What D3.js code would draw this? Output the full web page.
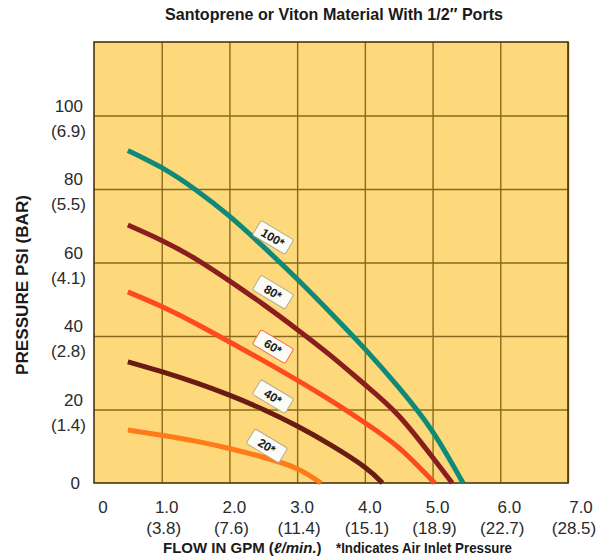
<!DOCTYPE html>
<html lang="en">
<head>
    <meta charset="UTF-8">
    <title>Santoprene or Viton Material With 1/2" Ports</title>
    <script src="https://cdn.jsdelivr.net/npm/d3@7"></script>
    <style>
        body { margin: 0; background: #fff; }
        .tick-num { font: 17px "Liberation Sans", Arial, sans-serif; fill: #2a2a2a; }
        .title { font-family: "Liberation Sans Narrow", "Liberation Sans", sans-serif; font-weight: bold; fill: #1a1a1a; }
        .tag text { font: bold 12px "Liberation Sans Narrow", "Liberation Sans", sans-serif; fill: #1a1a1a; text-anchor: middle; }
    </style>
</head>
<body>
    <svg id="chart" width="597" height="557"></svg>
    <script>
        // flow (gpm) ticks and the litres/min equivalents
        const gpmTicks = [1, 2, 3, 4, 5, 6, 7]
        const lpmLabels = ["(3.8)", "(7.6)", "(11.4)", "(15.1)", "(18.9)", "(22.7)", "(28.5)"]
        // pressure ticks (psi) and bar equivalents
        const psiTicks = [20, 40, 60, 80, 100]
        const barLabels = ["(1.4)", "(2.8)", "(4.1)", "(5.5)", "(6.9)"]

        // curves, one per air inlet pressure
        const airPressures = [100, 80, 60, 40, 20]
        const curveColors = ["#0f8a78", "#8a1e1e", "#ff4a1f", "#6a1c12", "#ff7a18"]
        const flow100 = [0.5, 1.0, 1.5, 2.0, 2.5, 3.0, 3.5, 4.0, 4.5, 5.0, 5.45]
        const psi100  = [90.5, 85.8, 79.8, 72.6, 64.3, 55.5, 46.2, 36.5, 26, 14, 0]
        const flow80  = [0.5, 1.0, 1.5, 2.0, 2.5, 3.0, 3.5, 4.0, 4.5, 5.0, 5.29]
        const psi80   = [70.2, 66, 61, 55, 48.6, 41.8, 34.6, 26.8, 18.3, 7, 0]
        const flow60  = [0.5, 1.0, 1.5, 2.0, 2.5, 3.0, 3.5, 4.0, 4.5, 5.03]
        const psi60   = [52, 48, 43.4, 38.4, 33.3, 28, 22.4, 16.4, 9.6, 0]
        const flow40  = [0.5, 1.0, 1.5, 2.0, 2.5, 3.0, 3.5, 4.0, 4.26]
        const psi40   = [33, 30.3, 27.3, 23.9, 20, 15.5, 10.3, 4.3, 0]
        const flow20  = [0.5, 1.0, 1.5, 2.0, 2.5, 3.0, 3.35]
        const psi20   = [14.4, 13, 11.4, 9.4, 7, 3.9, 0]
        // where the little tags sit
        const tagFlow = [2.64, 2.64, 2.64, 2.64, 2.55]
        const tagPsi  = [66.7, 51.8, 37, 23.4, 10]

        const series = [
            [flow100, psi100], [flow80, psi80], [flow60, psi60], [flow40, psi40], [flow20, psi20]
        ].map((s, i) => ({
            name: airPressures[i],
            color: curveColors[i],
            points: s[0].map((f, j) => [f, s[1][j]])
        }))

        const svg = d3.select("#chart")
        const plotL = 94, plotR = 568, plotT = 42, plotB = 483

        const x = d3.scaleLinear().domain([0, 7]).range([plotL, plotR])
        const y = d3.scaleLinear().domain([0, 120]).range([plotB, plotT])

        // plot background
        svg.append("rect").attr("x", plotL).attr("y", plotT)
            .attr("width", plotR - plotL).attr("height", plotB - plotT)
            .attr("fill", "#fdd97c")

        // grid lines
        svg.append("g").attr("transform", `translate(0,${plotB})`)
            .call(d3.axisBottom(x).tickValues(gpmTicks).tickSize(-(plotB - plotT)).tickFormat(""))
        svg.append("g").attr("transform", `translate(${plotL},0)`)
            .call(d3.axisLeft(y).tickValues(psiTicks).tickSize(-(plotR - plotL)).tickFormat(""))
        svg.selectAll(".domain").remove()
        svg.selectAll(".tick line").attr("stroke", "#8a6a1a").attr("stroke-width", 1.4)

        // frame
        svg.append("rect").attr("x", plotL).attr("y", plotT)
            .attr("width", plotR - plotL).attr("height", plotB - plotT)
            .attr("fill", "none").attr("stroke", "#4a3410").attr("stroke-width", 1.6)

        // curves
        const line = d3.line().x(d => x(d[0])).y(d => y(d[1])).curve(d3.curveNatural)
        svg.append("g").selectAll("path").data(series).enter().append("path")
            .attr("d", d => line(d.points))
            .attr("fill", "none")
            .attr("stroke", d => d.color)
            .attr("stroke-width", 5)

        // tags
        const tag = svg.append("g").selectAll("g").data(series).enter().append("g")
            .attr("class", "tag")
            .attr("transform", (d, i) => `translate(${x(tagFlow[i])},${y(tagPsi[i])}) rotate(31)`)
        tag.append("rect").attr("x", -19).attr("y", -9).attr("width", 38).attr("height", 17)
            .attr("rx", 2).attr("fill", "#fcfcf6")
            .attr("stroke", (d, i) => i === 2 ? "#f06a50" : "#b5ab90").attr("stroke-width", 1)
        tag.append("text").attr("y", 4).text(d => d.name + "*")

        // y tick labels
        const yl = svg.append("g").attr("class", "tick-num").attr("text-anchor", "end")
        yl.selectAll(".n").data(psiTicks).enter().append("text")
            .attr("x", 83).attr("y", d => y(d) - 4).text(d => d)
        yl.selectAll(".b").data(psiTicks).enter().append("text")
            .attr("x", 86).attr("y", (d, i) => y(d) + 21).text((d, i) => barLabels[i])
        yl.append("text").attr("x", 80).attr("y", y(0) + 6).text("0")

        // x tick labels
        const xl = svg.append("g").attr("class", "tick-num").attr("text-anchor", "middle")
        xl.selectAll(".n").data(gpmTicks).enter().append("text")
            .attr("x", (d, i) => x(d) + 5 + (i > 4 ? (i - 4) * 4 : 0)).attr("y", 513)
            .text(d => d.toFixed(1))
        xl.selectAll(".b").data(gpmTicks).enter().append("text")
            .attr("x", (d, i) => x(d) + 2 + (i > 5 ? 4 : 0)).attr("y", 534)
            .text((d, i) => lpmLabels[i])
        xl.append("text").attr("x", x(0) + 9).attr("y", 513).text("0")

        // titles
        svg.append("text").attr("class", "title").attr("x", 334).attr("y", 20)
            .attr("text-anchor", "middle").attr("font-size", 17)
            .attr("textLength", 338).attr("lengthAdjust", "spacingAndGlyphs")
            .text("Santoprene or Viton Material With 1/2\u2033 Ports")

        svg.append("text").attr("class", "title").attr("font-size", 16)
            .attr("transform", "translate(28,285) rotate(-90)")
            .attr("text-anchor", "middle")
            .attr("textLength", 180).attr("lengthAdjust", "spacingAndGlyphs")
            .text("PRESSURE PSI (BAR)")

        const xt = svg.append("text").attr("class", "title").attr("x", 163).attr("y", 553)
            .attr("font-size", 15)
        xt.append("tspan").text("FLOW IN GPM (")
        xt.append("tspan").attr("font-style", "italic").text("\u2113/min.")
        xt.append("tspan").text(")")
        svg.append("text").attr("class", "title").attr("x", 336).attr("y", 553)
            .attr("font-size", 14).attr("textLength", 176).attr("lengthAdjust", "spacingAndGlyphs")
            .text("*Indicates Air Inlet Pressure")
    </script>
</body>
</html>
